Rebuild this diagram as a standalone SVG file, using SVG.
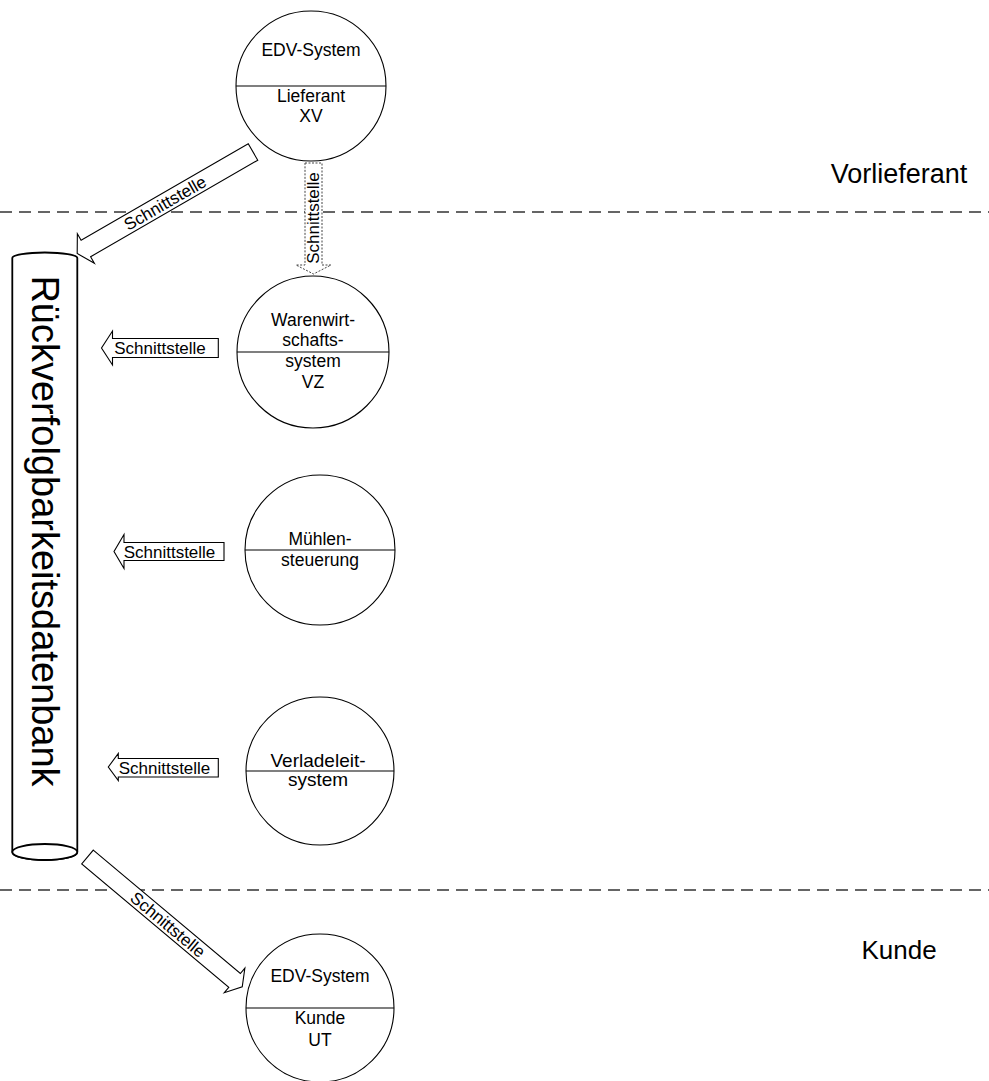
<svg xmlns="http://www.w3.org/2000/svg" width="989" height="1081" viewBox="0 0 989 1081">
<style>
  text { font-family: "Liberation Sans", Arial, sans-serif; fill: #000; }
  .ct { font-size: 17.5px; text-anchor: middle; }
  .st { font-size: 17px; text-anchor: middle; }
  .big { font-size: 27px; text-anchor: middle; }
  .circ { fill: #fff; stroke: #000; stroke-width: 1.1; }
  .div { stroke: #000; stroke-width: 1.1; }
  .arr { fill: #fff; stroke: #000; stroke-width: 1.1; }
  .dot { fill: #fff; stroke: #444; stroke-width: 1; stroke-dasharray: 2 1.5; }
  .dash { stroke: #333; stroke-width: 1.6; stroke-dasharray: 12 7; fill: none; }
</style>
<rect width="989" height="1081" fill="#fff"/>

<g id="boundaries">
  <line class="dash" x1="0" y1="212" x2="989" y2="212"/>
  <line class="dash" x1="0" y1="890" x2="989" y2="890"/>
  <text class="big" x="899" y="183">Vorlieferant</text>
  <text class="big" x="899" y="959" style="font-size:26px">Kunde</text>
</g>

<g id="db">
  <path d="M12.3,258 A32.5,5.5 0 0 1 77.3,258 V852 A32.5,8 0 0 1 12.3,852 Z" fill="#fff" stroke="#000" stroke-width="1.8"/>
  <ellipse cx="44.8" cy="852" rx="32.5" ry="8" fill="#fff" stroke="#000" stroke-width="1.8"/>
  <text transform="translate(45,531) rotate(90)" y="13" style="font-size:38px;text-anchor:middle">Rückverfolgbarkeitsdatenbank</text>
</g>

<g id="edv-lieferant">
  <circle class="circ" cx="311" cy="86" r="75"/>
  <line class="div" x1="236" y1="86" x2="386" y2="86"/>
  <text class="ct" x="311" y="56">EDV-System</text>
  <text class="ct" x="311" y="102">Lieferant</text>
  <text class="ct" x="311" y="122">XV</text>
</g>

<g id="warenwirtschaft">
  <circle class="circ" cx="313" cy="352" r="76"/>
  <line class="div" x1="237" y1="352" x2="389" y2="352"/>
  <text class="ct" x="313" y="326">Warenwirt-</text>
  <text class="ct" x="313" y="346">schafts-</text>
  <text class="ct" x="313" y="367">system</text>
  <text class="ct" x="313" y="388">VZ</text>
</g>

<g id="muehle">
  <circle class="circ" cx="320" cy="550" r="75"/>
  <line class="div" x1="245" y1="550" x2="395" y2="550"/>
  <text class="ct" x="320" y="545">Mühlen-</text>
  <text class="ct" x="320" y="566">steuerung</text>
</g>

<g id="verladeleit">
  <circle class="circ" cx="320" cy="771" r="74"/>
  <line class="div" x1="246" y1="771" x2="394" y2="771"/>
  <text class="ct" x="318" y="767" style="font-size:19px">Verladeleit-</text>
  <text class="ct" x="318" y="786" style="font-size:19px">system</text>
</g>

<g id="edv-kunde">
  <circle class="circ" cx="320" cy="1008" r="74"/>
  <line class="div" x1="246" y1="1008" x2="394" y2="1008"/>
  <text class="ct" x="320" y="982">EDV-System</text>
  <text class="ct" x="320" y="1024">Kunde</text>
  <text class="ct" x="320" y="1046">UT</text>
</g>

<g id="connectors">
  <g id="a-lieferant-db">
    <polygon class="arr" transform="translate(253,152) rotate(150)" points="0,-9.5 193,-9.5 193,-17 203,0 193,17 193,9.5 0,9.5"/>
    <text class="st" transform="translate(165,203) rotate(-30)" y="6">Schnittstelle</text>
  </g>
  <g id="a-lieferant-wws">
    <polygon class="dot" points="305,163 322,163 322,265 331,265 313.5,274 296,265 305,265"/>
    <text class="st" transform="translate(313.5,218) rotate(-90)" y="5">Schnittstelle</text>
  </g>
  <g id="a-wws-db">
    <polygon class="arr" points="218.3,338.5 112.5,338.5 112.5,331 101.5,348 112.5,365 112.5,357.5 218.3,357.5"/>
    <text class="st" x="160" y="354">Schnittstelle</text>
  </g>
  <g id="a-muehle-db">
    <polygon class="arr" points="224,542.5 124,542.5 124,534.5 114,551.5 124,568.5 124,560.5 224,560.5"/>
    <text class="st" x="169.5" y="557.5">Schnittstelle</text>
  </g>
  <g id="a-verlade-db">
    <polygon class="arr" points="218.3,758.5 118.3,758.5 118.3,753.5 108.3,767 118.3,780.5 118.3,777 218.3,777"/>
    <text class="st" x="164.5" y="774">Schnittstelle</text>
  </g>
  <g id="a-db-kunde">
    <polygon class="arr" transform="translate(87.5,857) rotate(40)" points="0,-9 192,-9 192,-16 202,0 192,16 192,9 0,9"/>
    <text class="st" transform="translate(168,924.5) rotate(40)" y="6">Schnittstelle</text>
  </g>
</g>
</svg>
